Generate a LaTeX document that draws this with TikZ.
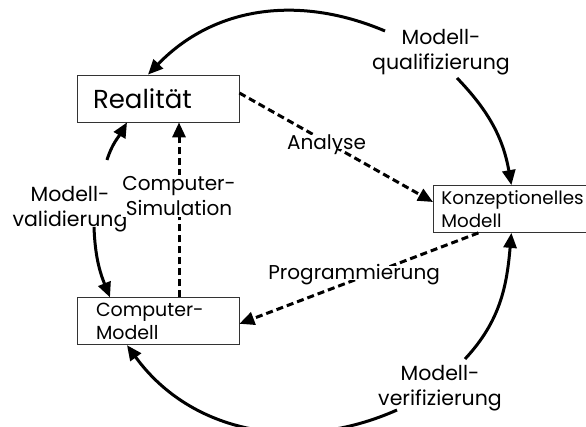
\documentclass[tikz,border=0pt]{standalone}
\usepackage{fontspec}
\setmainfont{Poppins}
\usetikzlibrary{calc}
\usetikzlibrary{positioning}
\usetikzlibrary{arrows.meta}
\tikzstyle{boxnode} = [draw=black!80, line width=0.8pt, rectangle, align=left, minimum height=47pt, inner ysep=0pt, font=\fontsize{19}{23}\selectfont]
\tikzstyle{lblnode} = [align=center, font=\fontsize{20.5}{25}\selectfont]
\tikzstyle{txtlbl} = [fill=white, inner sep=0pt, font=\fontsize{20}{25}\selectfont]
\tikzstyle{arcline} = [line width=3pt, -{Triangle[length=15pt, width=13pt]}]
\tikzstyle{flow} = [line width=3pt, dash pattern=on 7pt off 4pt, -{Triangle[length=15pt, width=13pt]}]

\begin{document}
\begin{tikzpicture}[x=1pt, y=1pt]
  \useasboundingbox (0,0) rectangle (586,426);

  \node[boxnode, text width=130pt, inner xsep=16pt, font=\fontsize{26}{30}\selectfont] (real) at (158,327.5) {Realität};
  \node[boxnode, text width=124pt, inner xsep=19pt, below=175pt of real] (comp) {Computer-\\Modell};
  \node[boxnode, text width=150pt, inner xsep=8pt, anchor=west, font=\fontsize{18.3}{22.5}\selectfont] (konz) at (433,217) {Konzeptionelles\\Modell};

  \node[lblnode] (qual) at (441,373.5) {Modell-\\qualifizierung};
  \node[lblnode] (valid) at (70,217) {Modell-\\validierung};
  \node[lblnode] (verif) at (440,38) {Modell-\\verifizierung};

  \coordinate (qualA) at (385,395);
  \coordinate (qualB) at (457,348);
  \coordinate (validA) at (107,266);
  \coordinate (validB) at (94,199);
  \coordinate (verifA) at (465,67);
  \coordinate (verifB) at (397,16);

  % cycle
  \draw[arcline] (qualA) to[out=157, in=46] ([xshift=-10pt]real.north);
  \draw[arcline] (qualB) to[out=-46, in=100] ([xshift=-5pt]konz.north);
  \draw[arcline] (verifA) to[out=47, in=-95] ([xshift=-5pt]konz.south);
  \draw[arcline] (verifB) to[out=204, in=-54] ([xshift=-31pt]comp.south);
  \draw[arcline] (validA) to[out=73, in=240] ([xshift=-31pt]real.south);
  \draw[arcline] (validB) to[out=-88, in=112] ([xshift=-48pt]comp.north);

  % steps
  \draw[flow] ([yshift=5.5pt]real.east) -- node[pos=0.45, txtlbl, text height=14pt, text depth=0pt] (ana) {Analyse} ([yshift=7pt]konz.west);
  \draw[flow] ([xshift=-38pt]konz.south) -- node[pos=0.52, yshift=7.5pt, txtlbl, text height=14pt, text depth=0pt] (prog) {Programmierung} ([yshift=-2.5pt]comp.east);
  \draw[flow] ([xshift=21pt]comp.north) -- node[pos=0.58, txtlbl, inner sep=1pt, align=center] (sim) {Computer-\\Simulation} ([xshift=21pt]real.south);
\end{tikzpicture}
\end{document}
